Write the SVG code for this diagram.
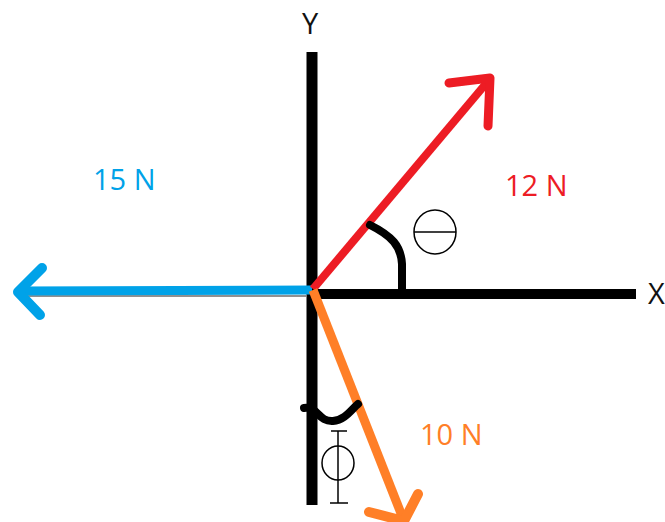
<svg xmlns="http://www.w3.org/2000/svg" width="665" height="522" viewBox="0 0 665 522">
<style>
.ax{stroke:#000;stroke-width:11;fill:none}
.vec{fill:none;stroke-linejoin:round}
.blue{stroke:#00a2e8}
.red{stroke:#ed1c24}
.orange{stroke:#ff7f27}
.arc{stroke:#000;stroke-width:8;fill:none;stroke-linecap:round;stroke-linejoin:round}
.sym{stroke:#000;stroke-width:1.5;fill:none}
.lbl{font-family:"Open Sans","Liberation Sans",sans-serif;font-size:29px}
</style>
<rect width="665" height="522" fill="#fff"/>
<g id="axes">
<line class="ax" x1="312" y1="52" x2="312" y2="505"/>
<line class="ax" x1="312" y1="294" x2="636" y2="294" style="stroke-width:10"/>
<line x1="16" y1="296" x2="306" y2="296" stroke="#222" stroke-width="1.2"/>
</g>
<g id="connectors">
<g id="force-15N">
<line class="vec blue" x1="312" y1="290" x2="19" y2="291" stroke-width="9"/>
<polyline class="vec blue" points="42,268 18,292 40,315" stroke-width="10" stroke-linecap="round"/>
</g>
<g id="force-12N">
<line class="vec red" x1="313" y1="289" x2="489" y2="80" stroke-width="8"/>
<polyline class="vec red" points="449,83 490,78 488,126" stroke-width="9" stroke-linecap="round"/>
</g>
<g id="force-10N">
<line class="vec orange" x1="313" y1="290" x2="404" y2="521" stroke-width="9"/>
<polyline class="vec orange" points="369,512 404,521 418,494" stroke-width="10" stroke-linecap="round"/>
</g>
</g>
<g id="angle-theta">
<path class="arc" d="M370,225 C392,236 401,246 402,264 L402,292"/>
<ellipse class="sym" cx="435" cy="232" rx="21" ry="22"/>
<line class="sym" x1="414" y1="232" x2="456" y2="232"/>
</g>
<g id="angle-phi">
<path class="arc" d="M304,408 C318,406 318,422 333,421 C345,420 351,410 358,404"/>
<ellipse class="sym" cx="338" cy="463" rx="16" ry="17"/>
<line class="sym" x1="338" y1="431" x2="338" y2="503"/>
<line class="sym" x1="331" y1="431" x2="347" y2="431"/>
<line class="sym" x1="330" y1="503" x2="348" y2="503"/>
</g>
<g id="labels">
<text class="lbl" x="310" y="34" text-anchor="middle" fill="#111">Y</text>
<text class="lbl" x="648" y="304" fill="#111">X</text>
<text class="lbl" x="93" y="190" fill="#00a2e8">15 N</text>
<text class="lbl" x="505" y="196" fill="#ed1c24">12 N</text>
<text class="lbl" x="420" y="445" fill="#ff7f27">10 N</text>
</g>
</svg>
